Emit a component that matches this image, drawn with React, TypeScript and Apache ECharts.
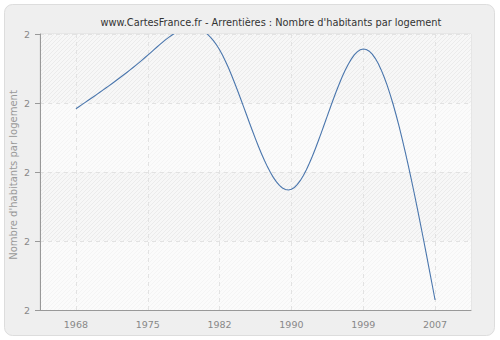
import React, { useEffect, useRef } from "react";
import * as echarts from "echarts";

const years = ["1968", "1975", "1982", "1990", "1999", "2007"];
const values = [2.2917, 2.3693, 2.3771, 2.1749, 2.3783, 2.0145];
const titleText = "www.CartesFrance.fr - Arrentières : Nombre d'habitants par logement";
const yAxisName = "Nombre d'habitants par logement";

function makeHatch(bg: string, line: string): string {
  const c = document.createElement("canvas");
  c.width = 4;
  c.height = 4;
  const ctx = c.getContext("2d");
  if (!ctx) return bg;
  ctx.fillStyle = bg;
  ctx.fillRect(0, 0, 4, 4);
  ctx.strokeStyle = line;
  ctx.lineWidth = 1;
  ctx.beginPath();
  ctx.moveTo(-1, 5);
  ctx.lineTo(5, -1);
  ctx.stroke();
  return c.toDataURL();
}

// natural cubic spline through pixel points (drawing helper only)
function splinePoints(pts: number[][], steps: number): number[][] {
  const n = pts.length;
  if (n < 3) return pts;
  const xs = pts.map((p) => p[0]);
  const ys = pts.map((p) => p[1]);
  const h: number[] = [];
  for (let i = 0; i < n - 1; i++) h.push(xs[i + 1] - xs[i]);
  const a: number[] = new Array(n).fill(0);
  const b: number[] = new Array(n).fill(0);
  const c: number[] = new Array(n).fill(0);
  const d: number[] = new Array(n).fill(0);
  b[0] = 1;
  b[n - 1] = 1;
  for (let i = 1; i < n - 1; i++) {
    a[i] = h[i - 1];
    b[i] = 2 * (h[i - 1] + h[i]);
    c[i] = h[i];
    d[i] = 6 * ((ys[i + 1] - ys[i]) / h[i] - (ys[i] - ys[i - 1]) / h[i - 1]);
  }
  const cp: number[] = new Array(n).fill(0);
  const dp: number[] = new Array(n).fill(0);
  cp[0] = c[0] / b[0];
  dp[0] = d[0] / b[0];
  for (let i = 1; i < n; i++) {
    const m = b[i] - a[i] * cp[i - 1];
    cp[i] = c[i] / m;
    dp[i] = (d[i] - a[i] * dp[i - 1]) / m;
  }
  const M: number[] = new Array(n).fill(0);
  M[n - 1] = dp[n - 1];
  for (let i = n - 2; i >= 0; i--) M[i] = dp[i] - cp[i] * M[i + 1];
  const out: number[][] = [];
  for (let i = 0; i < n - 1; i++) {
    for (let s = 0; s < steps; s++) {
      const t = s / steps;
      const A = 1 - t;
      const B = t;
      const x = xs[i] + t * h[i];
      const y =
        A * ys[i] +
        B * ys[i + 1] +
        ((A * A * A - A) * M[i] + (B * B * B - B) * M[i + 1]) * (h[i] * h[i]) / 6;
      out.push([x, y]);
    }
  }
  out.push([xs[n - 1], ys[n - 1]]);
  return out;
}

export default function App() {
  const ref = useRef<HTMLDivElement>(null);
  useEffect(() => {
    if (!ref.current) return;
    const chart = echarts.init(ref.current, undefined, { renderer: "svg" });
    const darkHatch = makeHatch("#f7f7f7", "#ebebeb");
    const lightHatch = makeHatch("#fbfbfb", "#f4f4f4");
    chart.setOption({
      animation: false,
      backgroundColor: "#ffffff",
      graphic: [
        {
          type: "rect",
          z: -10,
          shape: { x: 4.5, y: 4.5, width: 490, height: 331, r: 8 },
          style: { fill: "#efefef", stroke: "#dddddd", lineWidth: 1 },
          silent: true,
        },
        {
          type: "text",
          x: 13,
          y: 175,
          rotation: Math.PI / 2,
          silent: true,
          style: {
            text: yAxisName,
            fill: "#999",
            fontSize: 10,
            fontFamily: "DejaVu Sans",
            textAlign: "center",
            textVerticalAlign: "middle",
          },
        },
      ],
      title: {
        text: titleText,
        left: 266,
        top: 12,
        textAlign: "center",
        textStyle: { fontSize: 9.8, fontWeight: "normal", color: "#333", fontFamily: "DejaVu Sans" },
      },
      grid: {
        left: 40,
        right: 29,
        top: 34,
        bottom: 30,
        outerBoundsMode: "none",
        containLabel: false,
        show: true,
        backgroundColor: "transparent",
        borderColor: "#dddddd",
        borderWidth: 1,
      },
      xAxis: {
        type: "category",
        data: years,
        boundaryGap: true,
        axisLine: { lineStyle: { color: "#999" } },
        axisTick: { alignWithLabel: true, length: 5, lineStyle: { color: "#999" } },
        axisLabel: { color: "#888", fontSize: 9.5, margin: 9, fontFamily: "DejaVu Sans" },
        splitLine: {
          show: true,
          alignWithLabel: true,
          lineStyle: { color: "#e2e2e2", type: [4, 4] },
        },
      },
      yAxis: {
        type: "value",
        min: 2.0,
        max: 2.4,
        interval: 0.1,
        axisLine: { show: true, lineStyle: { color: "#999" } },
        axisTick: { show: true, length: 5, lineStyle: { color: "#999" } },
        axisLabel: {
          color: "#888",
          fontSize: 9.5,
          margin: 10,
          fontFamily: "DejaVu Sans",
          formatter: (v: number) => String(Math.round(v)),
        },
        splitLine: { show: true, lineStyle: { color: "#e2e2e2", type: [4, 4] } },
        splitArea: {
          show: true,
          areaStyle: {
            color: [
              { image: lightHatch, repeat: "repeat" },
              { image: darkHatch, repeat: "repeat" },
            ],
          },
        },
      },
      series: [
        {
          type: "custom",
          clip: true,
          data: values.map((v, i) => [i, v]),
          encode: { x: 0, y: 1 },
          renderItem: (params: any, api: any) => {
            if (params.dataIndex !== 0) return null;
            const pts = values.map((v, i) => api.coord([i, v]));
            const cs = params.coordSys;
            return {
              type: "polyline",
              shape: { points: splinePoints(pts, 24) },
              style: { stroke: "#4a76ad", lineWidth: 1.1, fill: "none" },
              clipPath: {
                type: "rect",
                shape: { x: cs.x, y: cs.y, width: cs.width, height: cs.height },
              },
            };
          },
        },
      ],
    });
    return () => chart.dispose();
  }, []);
  return (
    <div
      ref={ref}
      style={{ position: "fixed", left: 0, top: 0, width: 500, height: 340 }}
    />
  );
}
